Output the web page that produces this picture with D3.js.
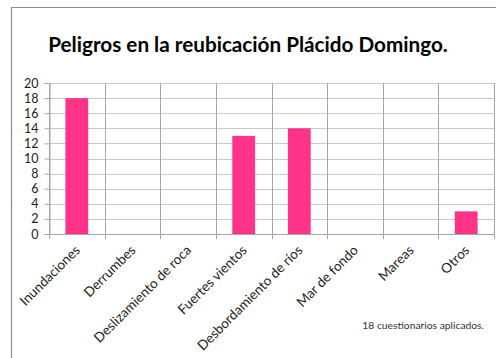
<!DOCTYPE html>
<html>
<head>
<meta charset="utf-8">
<script src="https://cdn.jsdelivr.net/npm/d3@7"></script>
<style>
  html, body { margin: 0; padding: 0; background: #fff; }
  svg { display: block; font-family: Lato, "Open Sans", sans-serif; }
</style>
</head>
<body>
<svg id="chart" width="496" height="358"></svg>
<script>
const categories = ["Inundaciones", "Derrumbes", "Deslizamiento de roca", "Fuertes vientos",
  "Desbordamiento de ríos", "Mar de fondo", "Mareas", "Otros"];
const values = [18, 0, 0, 13, 14, 0, 0, 3];
const yTicks = [0, 2, 4, 6, 8, 10, 12, 14, 16, 18, 20];
const titleText = "Peligros en la reubicación Plácido Domingo.";
const noteText = "18 cuestionarios aplicados.";

const svg = d3.select("#chart");
const margin = { left: 49, right: 2, top: 83, bottom: 124 };
const W = 496, H = 358;

// outer frame (left and top edges)
svg.append("path")
  .attr("d", `M11.5,${H} L11.5,7.5 L${W},7.5`)
  .attr("fill", "none").attr("stroke", "#8c8c8c").attr("stroke-width", 1.2);

svg.append("text")
  .attr("x", 248).attr("y", 52)
  .attr("text-anchor", "middle")
  .attr("font-size", 20.7).attr("font-weight", "bold")
  .attr("fill", "#000")
  .text(titleText);

const x = d3.scaleBand().domain(categories)
  .range([margin.left, W - margin.right]).paddingInner(0).paddingOuter(0);
const y = d3.scaleLinear().domain([0, 20]).range([H - margin.bottom, margin.top]);

// horizontal gridlines
svg.append("g").selectAll("line").data(yTicks.filter(d => d > 0)).join("line")
  .attr("x1", margin.left).attr("x2", W - margin.right)
  .attr("y1", d => Math.round(y(d)) + 0.5).attr("y2", d => Math.round(y(d)) + 0.5)
  .attr("stroke", "#c8c8c8").attr("stroke-width", 1);

// vertical gridlines at category boundaries
const bounds = categories.map(c => x(c)).concat([x.range()[1]]);
svg.append("g").selectAll("line").data(bounds).join("line")
  .attr("x1", d => Math.round(d) + 0.5).attr("x2", d => Math.round(d) + 0.5)
  .attr("y1", margin.top).attr("y2", y(0) + 5)
  .attr("stroke", "#a6a6a6").attr("stroke-width", 1);

// y axis
const yAxis = svg.append("g").attr("transform", `translate(${margin.left + 0.5},0)`)
  .call(d3.axisLeft(y).tickValues(yTicks).tickSize(5).tickPadding(6));
yAxis.select(".domain").attr("stroke", "#a6a6a6");
yAxis.selectAll(".tick line").attr("stroke", "#a6a6a6");
yAxis.selectAll(".tick text").attr("font-size", 12.5).attr("fill", "#222")
  .attr("font-family", "Lato, 'Open Sans', sans-serif");

// x axis baseline
svg.append("line")
  .attr("x1", margin.left).attr("x2", W - margin.right)
  .attr("y1", Math.round(y(0)) + 0.5).attr("y2", Math.round(y(0)) + 0.5)
  .attr("stroke", "#a6a6a6");

// bars
const bw = x.bandwidth() * 0.41;
svg.append("g").selectAll("rect").data(values.map((v, i) => ({ c: categories[i], v })))
  .join("rect")
  .attr("x", d => x(d.c) + x.bandwidth() / 2 - bw / 2)
  .attr("width", bw)
  .attr("y", d => y(d.v))
  .attr("height", d => y(0) - y(d.v))
  .attr("fill", "#ff3388");

// rotated category labels
svg.append("g").selectAll("text").data(categories).join("text")
  .attr("transform", c => `translate(${x(c) + x.bandwidth() / 2 + 4},${y(0) + 17}) rotate(-45)`)
  .attr("text-anchor", "end")
  .attr("font-size", 13.5).attr("fill", "#222")
  .text(c => c);

svg.append("text")
  .attr("x", 484).attr("y", 329)
  .attr("text-anchor", "end")
  .attr("font-size", 10.3).attr("fill", "#333")
  .text(noteText);
</script>
</body>
</html>
